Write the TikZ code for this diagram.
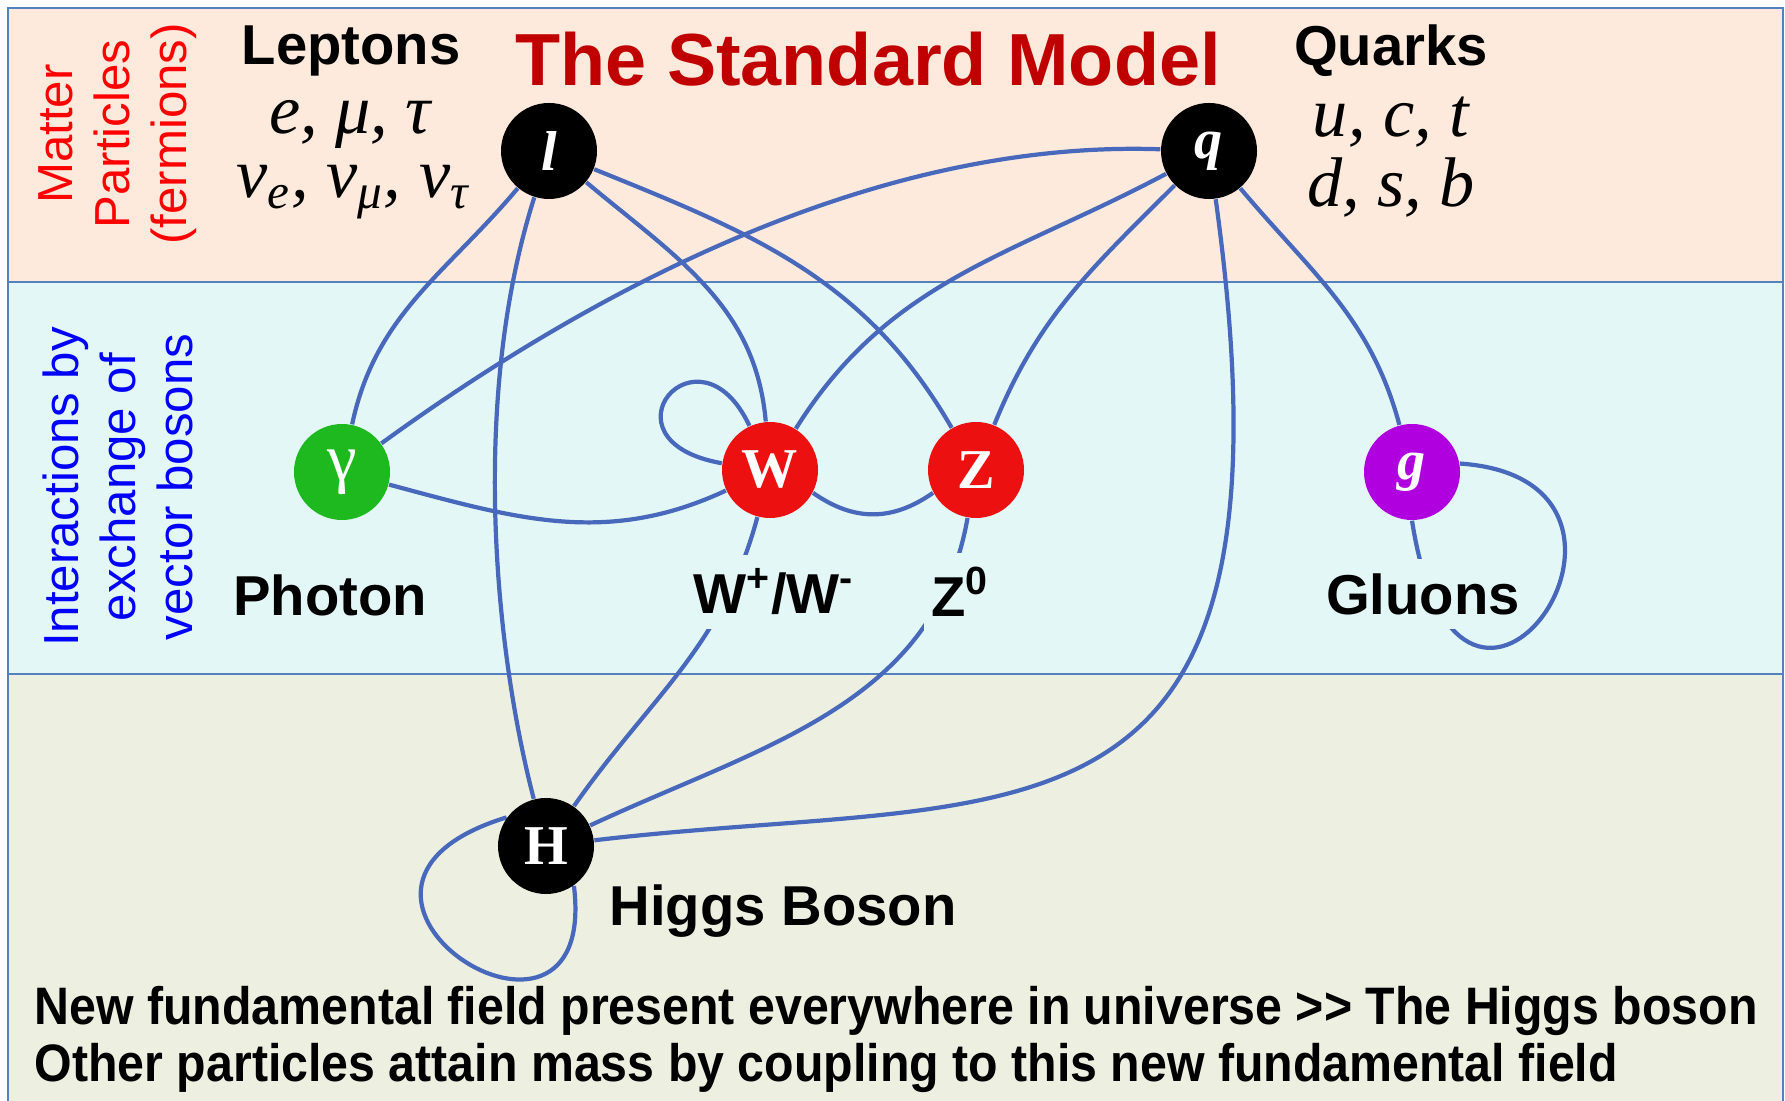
\documentclass[tikz,border=0pt]{standalone}
\usepackage{amsmath}
\usepackage{fontspec}
\setmainfont{Liberation Sans}
\newfontfamily\partfont{Liberation Serif}
\usetikzlibrary{backgrounds}
\definecolor{bandtop}{RGB}{253,234,221}
\definecolor{bandmid}{RGB}{228,247,247}
\definecolor{bandlow}{RGB}{237,240,224}
\definecolor{bandline}{RGB}{84,130,190}
\definecolor{linkblue}{RGB}{72,104,188}
\definecolor{titlered}{RGB}{192,0,0}
\definecolor{gamgreen}{RGB}{30,185,30}
\definecolor{bosred}{RGB}{236,16,16}
\definecolor{glupurple}{RGB}{176,0,224}

\begin{document}
\begin{tikzpicture}[
  particle/.style={circle, minimum size=0.96cm, inner sep=0pt, text=white,
    font=\partfont\fontsize{16}{16}\selectfont\bfseries},
  link/.style={draw=linkblue, line width=1.2pt},
  lbl/.style={font=\fontsize{16}{19}\selectfont\bfseries, inner xsep=2pt, inner ysep=4pt},
  side/.style={rotate=90, align=center, font=\fontsize{14}{16.2}\selectfont},
  flav/.style={inner sep=0pt, font=\partfont\itshape\fontsize{20}{24}\selectfont},
  note/.style={anchor=west, inner sep=0pt, font=\fontsize{15}{18}\selectfont\bfseries},
  band/.style={draw=bandline, line width=0.8pt}]
  \useasboundingbox (0,0) rectangle (17.85,11);

  \node[particle, fill=black] (lep) at (5.49,9.49) {\textit{l}};
  \node[particle, fill=black] (qrk) at (12.09,9.49) {\textit{q}};
  \node[particle, fill=gamgreen, font=\partfont\fontsize{19}{19}\selectfont] (gam) at (3.42,6.28) {γ};
  \node[particle, fill=bosred] (wbos) at (7.70,6.30) {W};
  \node[particle, fill=bosred] (zbos) at (9.76,6.30) {Z};
  \node[particle, fill=glupurple] (glu) at (14.12,6.28) {\textit{g}};
  \node[particle, fill=black] (hig) at (5.46,2.54) {H};

  \node[side, text=red] (matter) at (1.18,9.66) {Matter\\Particles\\(fermions)};
  \node[side, text=blue] (inter) at (1.18,6.13) {Interactions by\\exchange of\\vector bosons};
  \node[lbl] (leptons) at (3.51,10.49) {Leptons};
  \node[font=\fontsize{21}{25}\selectfont\bfseries, text=titlered] (title) at (8.68,10.41) {The Standard Model};
  \node[lbl] (quarks) at (13.91,10.49) {Quarks};
  \node[flav] (lepflav) at (3.50,9.76) {e, μ, τ};
  \node[flav] (nuflav) at (3.53,9.08) {ν\textsubscript{e}, ν\textsubscript{μ}, ν\textsubscript{τ}};
  \node[flav] (upflav) at (13.91,9.78) {u, c, t};
  \node[flav] (dnflav) at (13.91,9.12) {d, s, b};
  \node[lbl] (photon) at (3.30,5.05) {Photon};
  \node[lbl, fill=bandmid] (wlbl) at (7.74,5.08) {W\textsuperscript{+}/W\textsuperscript{-}};
  \node[lbl, fill=bandmid] (zlbl) at (9.60,5.08) {Z\textsuperscript{0}};
  \node[lbl, fill=bandmid] (glulbl) at (14.23,5.06) {Gluons};
  \node[lbl] (higlbl) at (7.83,1.89) {Higgs Boson};
  \node[note] (note1) at (0.34,0.89) {\scalebox{0.916}[1]{New fundamental field present everywhere in universe >{}> The Higgs boson}};
  \node[note] (note2) at (0.34,0.32) {\scalebox{0.916}[1]{Other particles attain mass by coupling to this new fundamental field}};

  \begin{scope}[on background layer]
    \draw[band, fill=bandtop] (0.08,8.18) rectangle (17.83,10.92);
    \draw[band, fill=bandmid] (0.08,4.26) rectangle (17.83,8.18);
    \draw[band, fill=bandlow] (0.08,-0.2) rectangle (17.83,4.26);

    \draw[link] (lep) to[out=230,in=78] (gam);
    \draw[link] (lep) .. controls (4.7,7.0) and (4.95,4.5) .. (hig);
    \draw[link] (lep) to[out=-40,in=95] (wbos);
    \draw[link] (lep) to[out=-22,in=120] (zbos);
    \draw[link] (qrk) to[out=178,in=36,looseness=0.85] (gam);
    \draw[link] (qrk) to[out=208,in=58] (wbos);
    \draw[link] (qrk) to[out=225,in=68] (zbos);
    \draw[link] (qrk) .. controls (13.1,2.2) and (10.2,3.1) .. (hig);
    \draw[link] (qrk) to[out=-50,in=105] (glu);
    \draw[link] (gam) to[out=-15,in=205] (wbos);
    \draw[link] (wbos.-28) .. controls +(-35:0.5) and +(215:0.5) .. (zbos.208);
    \draw[link] (wbos) to[out=-105,in=55] (hig);
    \draw[link] (zbos) to[out=-100,in=25] (hig);
    \draw[link] (wbos.172) .. controls +(170:1.3) and +(115:1.2) .. (wbos.115);
    \draw[link] (glu.10) .. controls (17.0,6.2) and (14.6,2.7) .. (glu.south);
    \draw[link] (hig.144) .. controls (2.7,2.1) and (6.0,0.0) .. (hig.-55);
  \end{scope}
\end{tikzpicture}
\end{document}
